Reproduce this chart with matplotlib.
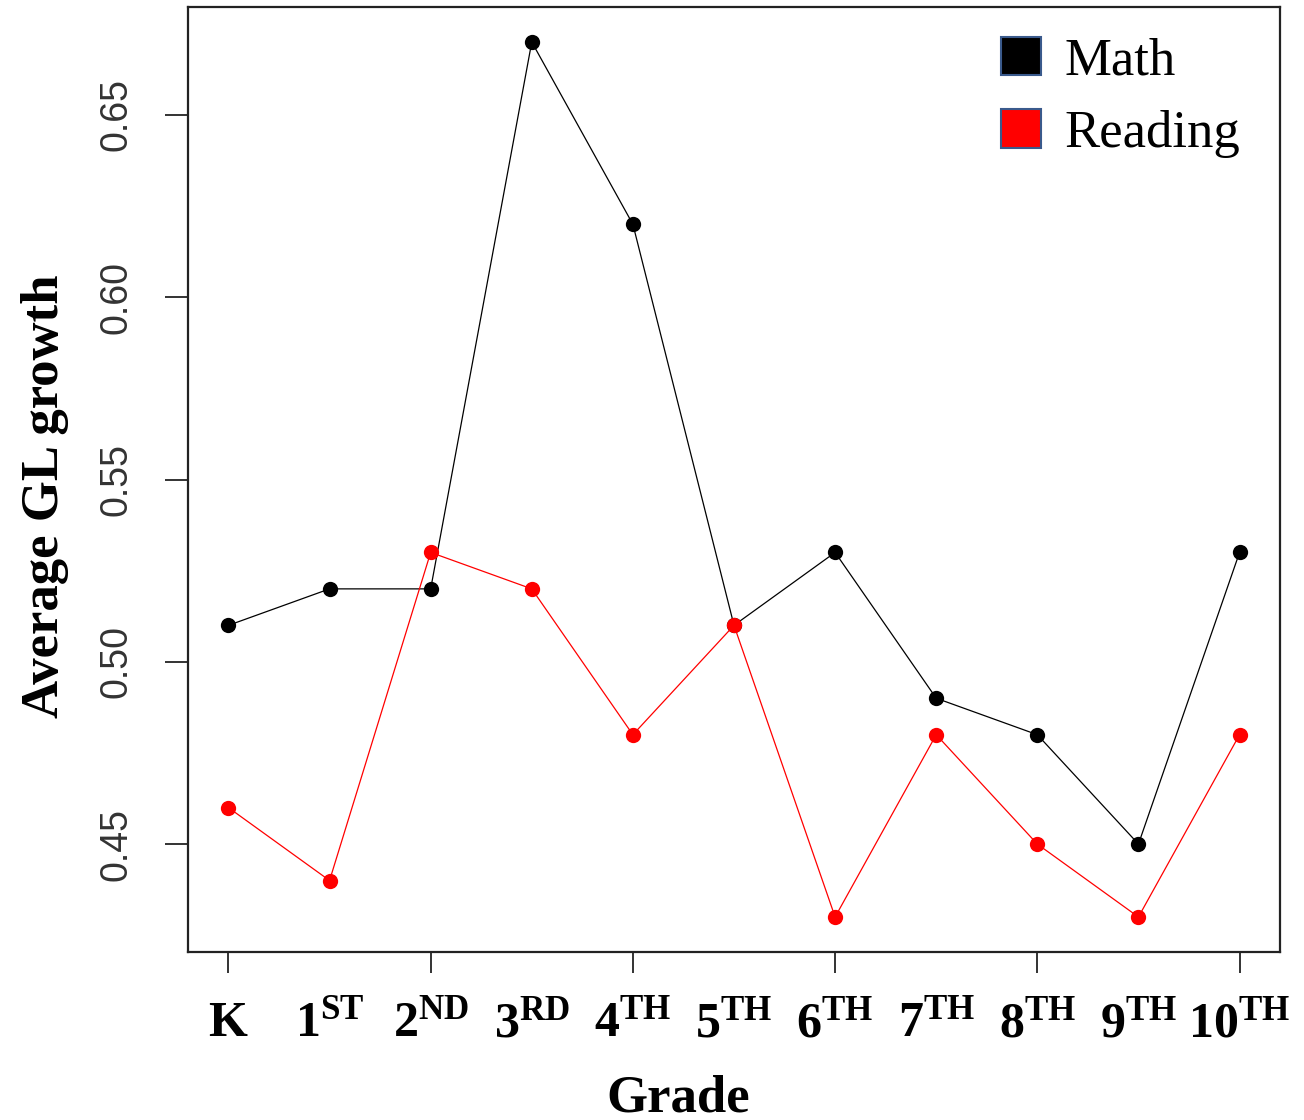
"""Average GL growth by grade, math vs reading (R base-graphics look)."""

import matplotlib

matplotlib.use("Agg")
matplotlib.rcParams.update({
    "font.family": "Liberation Serif",
    "mathtext.fontset": "custom",
    "mathtext.rm": "Liberation Serif",
    "mathtext.bf": "Liberation Serif:bold",
    "mathtext.it": "Liberation Serif:italic",
})

import matplotlib.pyplot as plt
from matplotlib.patches import Patch

grades = ["K", "1ST", "2ND", "3RD", "4TH", "5TH", "6TH", "7TH", "8TH", "9TH", "10TH"]
math_growth = [0.51, 0.52, 0.52, 0.67, 0.62, 0.51, 0.53, 0.49, 0.48, 0.45, 0.53]
reading_growth = [0.46, 0.44, 0.53, 0.52, 0.48, 0.51, 0.43, 0.48, 0.45, 0.43, 0.48]
y_ticks = [0.45, 0.50, 0.55, 0.60, 0.65]


def grade_label(name):
    # "1ST" -> 1 with superscript ST, "K" stays plain
    head = name.rstrip("STNDRH")
    tail = name[len(head):]
    if not tail:
        return rf"$\mathbf{{{head}}}$"
    return rf"$\mathbf{{{head}}}^{{\mathbf{{{tail}}}}}$"


x = list(range(1, len(grades) + 1))

fig = plt.figure(figsize=(13.04, 11.2), dpi=100, facecolor="white")
ax = fig.add_axes([188 / 1304, 1 - 952 / 1120, 1092 / 1304, 945 / 1120])

ax.plot(x, math_growth, color="black", lw=0.9, marker="o", ms=11,
        markeredgewidth=0)
ax.plot(x, reading_growth, color="#FF0000", lw=0.9, marker="o", ms=11,
        markeredgewidth=0)

# R-style 4% padding on both axes
span_x = x[-1] - x[0]
ax.set_xlim(x[0] - 0.04 * span_x, x[-1] + 0.04 * span_x)
all_y = math_growth + reading_growth
span_y = max(all_y) - min(all_y)
ax.set_ylim(min(all_y) - 0.04 * span_y, max(all_y) + 0.04 * span_y)

for spine in ax.spines.values():
    spine.set_linewidth(1.6)
    spine.set_color("#222222")

# labels on every grade (no marks), tick marks only every other grade
ax.xaxis.remove_overlapping_locs = False
ax.set_xticks(x, [grade_label(g) for g in grades])
ax.set_xticks(x[::2], minor=True)
ax.tick_params(axis="x", which="major", length=0, pad=35, labelsize=36)
ax.tick_params(axis="x", which="minor", length=15, width=1.4, color="#333333")

ax.set_yticks(y_ticks, [f"{v:.2f}" for v in y_ticks])
ax.tick_params(axis="y", length=16.5, width=1.4, color="#333333", pad=22,
               labelsize=27, labelcolor="#333333")
for lbl in ax.get_yticklabels():
    lbl.set_family("Liberation Sans")
    lbl.set_rotation(90)
    lbl.set_va("center")

ax.set_ylabel("Average GL growth", fontsize=38, fontweight="bold")
ax.yaxis.set_label_coords(-0.1090, 0.4825)
ax.set_xlabel("Grade", fontsize=38, fontweight="bold")
ax.xaxis.label.set_va("baseline")
ax.xaxis.set_label_coords(0.4487, -(1111 - 952) / 945)

handles = [
    Patch(facecolor="black", edgecolor="#3A5A8C", linewidth=1.5, label="Math"),
    Patch(facecolor="#FF0000", edgecolor="#3A5A8C", linewidth=1.5, label="Reading"),
]
ax.legend(handles=handles, loc="upper right", bbox_to_anchor=(1, 1 + 10 / 945),
          frameon=False, fontsize=38,
          handlelength=0.75, handleheight=0.75, handletextpad=0.45,
          labelspacing=0.45, borderaxespad=0.55, borderpad=0.2)

fig.savefig("out.png", dpi=100, facecolor="white")
